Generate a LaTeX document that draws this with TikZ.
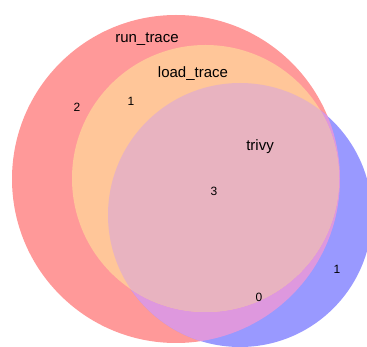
\documentclass[tikz,border=0pt]{standalone}
\usepackage{fontspec}
\setmainfont{Liberation Sans}
\usetikzlibrary{positioning}

\definecolor{runred}{HTML}{FF9999}
\definecolor{loadorange}{HTML}{FFC699}
\definecolor{trivyblue}{HTML}{9999FF}
\definecolor{runtrivy}{HTML}{DE98DE}
\definecolor{allthree}{HTML}{E8B3C0}

\tikzset{
    setlabel/.style={font=\fontsize{15}{17}\selectfont, inner sep=0pt},
    count/.style={font=\fontsize{12}{14}\selectfont, inner sep=0pt}
}

\begin{document}
\begin{tikzpicture}[x=1pt, y=-1pt]
        \clip (0,0) rectangle (367,347);
        % sets as circles
        \def\runC{(176,179) circle (164)}
        \def\loadC{(205.5,178.5) circle (133.5)}
        \def\trivyC{(240,215) circle (132)}
        \fill[runred] \runC;
        \fill[trivyblue] \trivyC;
        \begin{scope}
            \clip \trivyC;
            \fill[runtrivy] \runC;
        \end{scope}
        \fill[loadorange] \loadC;
        \begin{scope}
            \clip \loadC;
            \fill[allthree] \trivyC;
        \end{scope}
        % set names
        \node[setlabel] (run) at (147,39.5) {run\_trace};
        \node[setlabel] (load) at (193,73.5) {load\_trace};
        \node[setlabel] (trivy) at (260,146.5) {trivy};
        % region sizes
        \node[count] (n100) at (77,107) {2};
        \node[count] (n110) at (131,101) {1};
        \node[count] (n111) at (214,191) {3};
        \node[count] (n101) at (259,297) {0};
        \node[count] (n001) at (337,269) {1};
    \end{tikzpicture}
\end{document}
